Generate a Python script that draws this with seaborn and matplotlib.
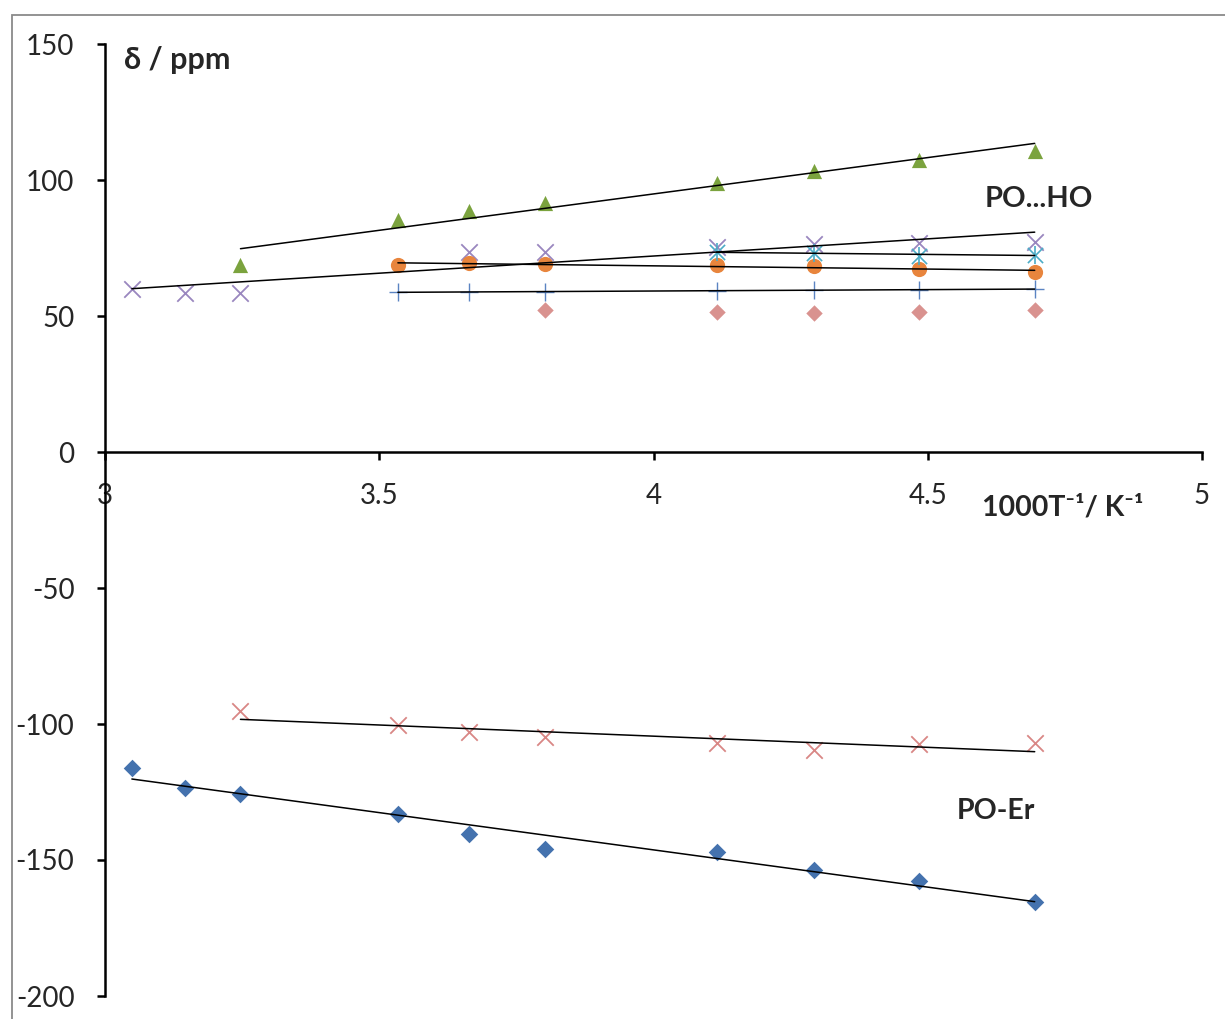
import numpy as np
import pandas as pd
import matplotlib
matplotlib.use("Agg")
import matplotlib.pyplot as plt
from matplotlib.patches import Rectangle
import seaborn as sns

# ---------------- data ----------------
# x values are 1000/T for T = 328, 318, 308, 283, 273, 263, 243, 233, 223, 213 K
green_x = [3.247, 3.534, 3.663, 3.802, 4.115, 4.292, 4.484, 4.695]
green_y = [68.8, 85.3, 88.6, 91.5, 98.9, 103.3, 107.4, 110.7]

purple_x = [3.049, 3.145, 3.247, 3.663, 3.802, 4.115, 4.292, 4.484, 4.695]
purple_y = [59.9, 58.5, 58.5, 73.5, 73.5, 75.2, 76.3, 76.8, 77.2]

cyan_x = [4.115, 4.292, 4.484, 4.695]
cyan_y = [73.5, 73.3, 72.0, 72.6]

orange_x = [3.534, 3.663, 3.802, 4.115, 4.292, 4.484, 4.695]
orange_y = [68.8, 69.5, 69.1, 68.6, 68.2, 67.3, 66.2]

plus_x = [3.534, 3.663, 3.802, 4.115, 4.292, 4.484, 4.695]
plus_y = [58.8, 58.8, 58.9, 59.3, 59.5, 59.7, 59.9]

pink_x = [3.802, 4.115, 4.292, 4.484, 4.695]
pink_y = [52.2, 51.5, 51.1, 51.6, 52.2]

redx_x = [3.247, 3.534, 3.663, 3.802, 4.115, 4.292, 4.484, 4.695]
redx_y = [-95.1, -100.4, -103.0, -104.9, -106.9, -109.6, -107.4, -107.1]

blue_x = [3.049, 3.145, 3.247, 3.534, 3.663, 3.802, 4.115, 4.292, 4.484, 4.695]
blue_y = [-116.2, -123.5, -125.7, -133.1, -140.4, -146.0, -147.0, -153.7, -157.7, -165.4]

x_ticks = [3, 3.5, 4, 4.5, 5]
x_tick_labels = ["3", "3.5", "4", "4.5", "5"]
y_ticks = [-200, -150, -100, -50, 0, 50, 100, 150]
y_tick_labels = ["-200", "-150", "-100", "-50", "0", "50", "100", "150"]

# ---------------- style ----------------
sns.set_style("white")
plt.rcParams["font.family"] = ["Lato", "DejaVu Sans"]

fig = plt.figure(figsize=(12.25, 10.19), dpi=100)
ax = fig.add_axes([105 / 1225, 23 / 1019, 1097 / 1225, 952 / 1019])

series = [
    (green_x, green_y, "#7BA33E", "^", 120, True, 0),
    (purple_x, purple_y, "#9A87BF", "x", 140, True, 1.3),
    (orange_x, orange_y, "#E8853D", "o", 120, True, 0),
    (plus_x, plus_y, "#5B84C2", "+", 160, True, 1.0),
    (pink_x, pink_y, "#D9928F", "D", 70, False, 0),
    (redx_x, redx_y, "#D98785", "x", 140, True, 1.3),
    (blue_x, blue_y, "#4472AE", "D", 80, True, 0),
]

for xs, ys, col, mk, s, trend, lw in series:
    df = pd.DataFrame({"x": xs, "y": ys})
    sns.scatterplot(data=df, x="x", y="y", ax=ax, color=col, marker=mk,
                    s=s, linewidth=lw, zorder=3)
    if trend:
        sns.regplot(data=df, x="x", y="y", ax=ax, scatter=False, ci=None,
                    truncate=True, color="black", line_kws={"lw": 1.1, "zorder": 4})

# cyan star (x with vertical bar)
cdf = pd.DataFrame({"x": cyan_x, "y": cyan_y})
sns.scatterplot(data=cdf, x="x", y="y", ax=ax, color="#4BACC6", marker="x",
                s=120, linewidth=1.2, zorder=3)
sns.scatterplot(data=cdf, x="x", y="y", ax=ax, color="#4BACC6", marker="|",
                s=160, linewidth=1.2, zorder=3)
sns.regplot(data=cdf, x="x", y="y", ax=ax, scatter=False, ci=None,
            truncate=True, color="black", line_kws={"lw": 1.1, "zorder": 4})

# ---------------- axes ----------------
ax.set_xlim(3, 5)
ax.set_ylim(-200, 150)
ax.set_xlabel("")
ax.set_ylabel("")
ax.set_facecolor("none")
for sp in ("top", "right"):
    ax.spines[sp].set_visible(False)
ax.spines["bottom"].set_position(("data", 0))
for sp in ("left", "bottom"):
    ax.spines[sp].set_linewidth(1.8)
    ax.spines[sp].set_color("black")
    ax.spines[sp].set_zorder(2)

ax.set_xticks(x_ticks)
ax.set_xticklabels(x_tick_labels)
ax.set_yticks(y_ticks)
ax.set_yticklabels(y_tick_labels)
ax.tick_params(axis="both", which="major", direction="out", length=6,
               width=1.8, color="black", labelsize=20, pad=16,
               left=True, bottom=True)
ax.grid(False)

# ---------------- annotations ----------------
ax.text(3.035, 144, "δ / ppm", fontsize=22, fontweight="bold", va="center", ha="left")
ax.text(4.599, -20.5, "1000T⁻¹/ K⁻¹", fontsize=20.5, fontweight="bold",
        va="center", ha="left")
ax.text(4.604, 93, "PO...HO", fontsize=21, fontweight="bold", va="center", ha="left")
ax.text(4.553, -132, "PO-Er", fontsize=20.5, fontweight="bold", va="center", ha="left")

# outer chart-area frame
fig.patches.append(Rectangle((12 / 1225, -0.05), 1.2, 0.05 + (1 - 15 / 1019),
                             transform=fig.transFigure, fill=False,
                             edgecolor="#8A8A8A", linewidth=1.3, zorder=0))

fig.savefig("out.png", dpi=100, facecolor="white")
